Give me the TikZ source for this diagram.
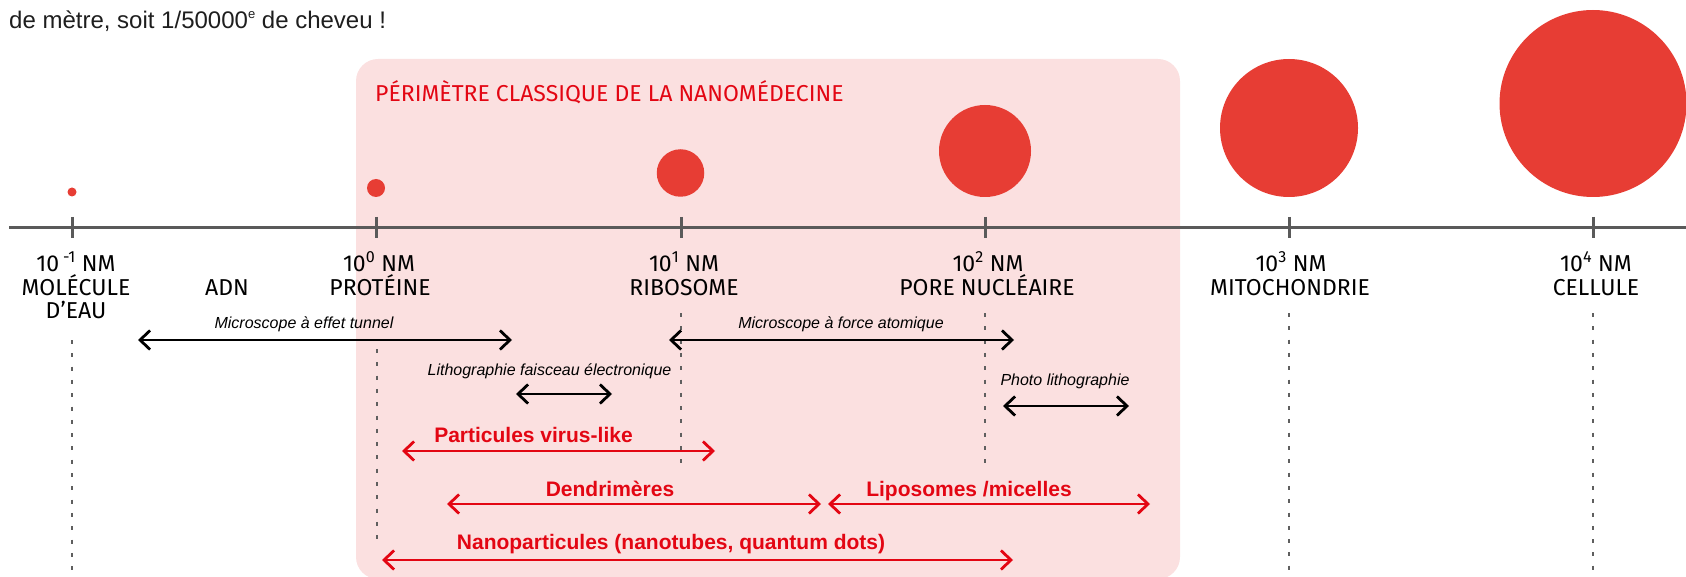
\documentclass[tikz,border=0pt]{standalone}
\usepackage{fontspec}
\setmainfont{Liberation Sans}
\newfontfamily\labelfont{Fira Sans}
\usetikzlibrary{arrows.meta}
\definecolor{dotred}{RGB}{231,61,52}
\definecolor{zonepink}{RGB}{251,224,224}
\definecolor{brightred}{RGB}{227,6,19}
\definecolor{axisgray}{RGB}{90,90,90}
\definecolor{dotgray}{RGB}{95,95,95}
\definecolor{headtext}{RGB}{30,30,30}
\newcommand{\smallsup}[1]{\raisebox{0.42em}{\fontsize{13}{13}\selectfont #1}}
\tikzset{
  barbtip/.tip={Straight Barb[length=10pt,width=19pt,line width=2.8pt]},
  ticklbl/.style={inner sep=0pt, anchor=base, font=\labelfont\fontsize{23}{23}\selectfont, text=black},
  titlelbl/.style={inner sep=0pt, anchor=base west, font=\labelfont\fontsize{23}{23}\selectfont, text=brightred},
  itlbl/.style={inner sep=0pt, anchor=base, font=\itshape\fontsize{16}{16}\selectfont, text=black},
  redlbl/.style={inner sep=0pt, anchor=base, font=\bfseries\fontsize{21}{21}\selectfont, text=brightred},
  blackrange/.style={draw=black, line width=2.4pt, barbtip-barbtip},
  redrange/.style={draw=brightred, line width=2.2pt, barbtip-barbtip},
  guide/.style={draw=dotgray, line width=2.2pt, dash pattern=on 4pt off 9.3pt},
  axisline/.style={draw=axisgray, line width=3pt},
  blob/.style={circle, fill=dotred, draw=none, inner sep=0pt},
}
\begin{document}
\begin{tikzpicture}[x=1pt,y=-1pt]
\useasboundingbox (0,0) rectangle (1686,577);
% zone
\fill[zonepink, rounded corners=22pt] (356,59) rectangle (1180,579);
\node[titlelbl] (title) at (375,102) {PÉRIMÈTRE CLASSIQUE DE LA NANOMÉDECINE};
% header text
\node[inner sep=0pt, anchor=base west, font=\fontsize{24}{24}\selectfont, text=headtext] (hdr) at (9,29) {de mètre, soit 1/50000\smallsup{e} de cheveu !};
% axis
\coordinate (axL) at (9,228);
\coordinate (axR) at (1686,228);
\draw[axisline] (axL) -- (axR);
\foreach \n/\x in {m/72,a/376,b/681,c/985,d/1289,e/1593}{
  \coordinate (tt\n) at (\x,217);
  \coordinate (tb\n) at (\x,238);
  \draw[axisline] (tt\n) -- (tb\n);
}
% circles
\node[blob, minimum size=9pt] (cm) at (72,192) {};
\node[blob, minimum size=18pt] (ca) at (376,188) {};
\node[blob, minimum size=47.5pt] (cb) at (680.5,173) {};
\node[blob, minimum size=92pt] (cc) at (985,151) {};
\node[blob, minimum size=138pt] (cd) at (1289,128) {};
\node[blob, minimum size=187pt] (ce) at (1593,103.5) {};
% tick labels
\node[ticklbl] (lm1) at (76,272) {10\,\textsuperscript{-1} NM};
\node[ticklbl] (lm2) at (76,295) {MOLÉCULE};
\node[ticklbl] (lm3) at (76,318) {D’EAU};
\node[ticklbl] (adn) at (227,295) {ADN};
\node[ticklbl] (la1) at (379,272) {10\textsuperscript{0} NM};
\node[ticklbl] (la2) at (380,295) {PROTÉINE};
\node[ticklbl] (lb1) at (684,272) {10\textsuperscript{1} NM};
\node[ticklbl] (lb2) at (684,295) {RIBOSOME};
\node[ticklbl] (lc1) at (988,272) {10\textsuperscript{2} NM};
\node[ticklbl] (lc2) at (987,295) {PORE NUCLÉAIRE};
\node[ticklbl] (ld1) at (1291,272) {10\textsuperscript{3} NM};
\node[ticklbl] (ld2) at (1290,295) {MITOCHONDRIE};
\node[ticklbl] (le1) at (1596,272) {10\textsuperscript{4} NM};
\node[ticklbl] (le2) at (1596,295) {CELLULE};
% guides
\coordinate (gm1) at (72,340);  \coordinate (gm2) at (72,577);
\coordinate (ga1) at (377,349); \coordinate (ga2) at (377,548);
\coordinate (gb1) at (681,313); \coordinate (gb2) at (681,463);
\coordinate (gc1) at (985,313); \coordinate (gc2) at (985,463);
\coordinate (gd1) at (1289,313); \coordinate (gd2) at (1289,577);
\coordinate (ge1) at (1593,313); \coordinate (ge2) at (1593,577);
\foreach \n in {m,a,b,c,d,e}{\draw[guide] (g\n1) -- (g\n2);}
% black ranges
\coordinate (met1) at (138,340); \coordinate (met2) at (512,340);
\draw[blackrange] (met1) -- (met2);
\node[itlbl] (metl) at (304,328) {Microscope à effet tunnel};
\coordinate (mfa1) at (669,340); \coordinate (mfa2) at (1014,340);
\draw[blackrange] (mfa1) -- (mfa2);
\node[itlbl] (mfal) at (841,328) {Microscope à force atomique};
\coordinate (lfe1) at (516,394); \coordinate (lfe2) at (612,394);
\draw[blackrange] (lfe1) -- (lfe2);
\node[itlbl] (lfel) at (549.5,375) {Lithographie faisceau électronique};
\coordinate (pl1) at (1003,406); \coordinate (pl2) at (1129,406);
\draw[blackrange] (pl1) -- (pl2);
\node[itlbl] (pll) at (1065,385) {Photo lithographie};
% red ranges
\coordinate (pvl1) at (402,451); \coordinate (pvl2) at (715,451);
\draw[redrange] (pvl1) -- (pvl2);
\node[redlbl] (pvll) at (533.5,442) {Particules virus-like};
\coordinate (den1) at (447,504); \coordinate (den2) at (821,504);
\draw[redrange] (den1) -- (den2);
\node[redlbl] (denl) at (610,496) {Dendrimères};
\coordinate (lip1) at (828,504); \coordinate (lip2) at (1150,504);
\draw[redrange] (lip1) -- (lip2);
\node[redlbl] (lipl) at (969,496) {Liposomes /micelles};
\coordinate (nan1) at (382,560); \coordinate (nan2) at (1013,560);
\draw[redrange] (nan1) -- (nan2);
\node[redlbl] (nanl) at (671,549) {Nanoparticules (nanotubes, quantum dots)};
\end{tikzpicture}
\end{document}
